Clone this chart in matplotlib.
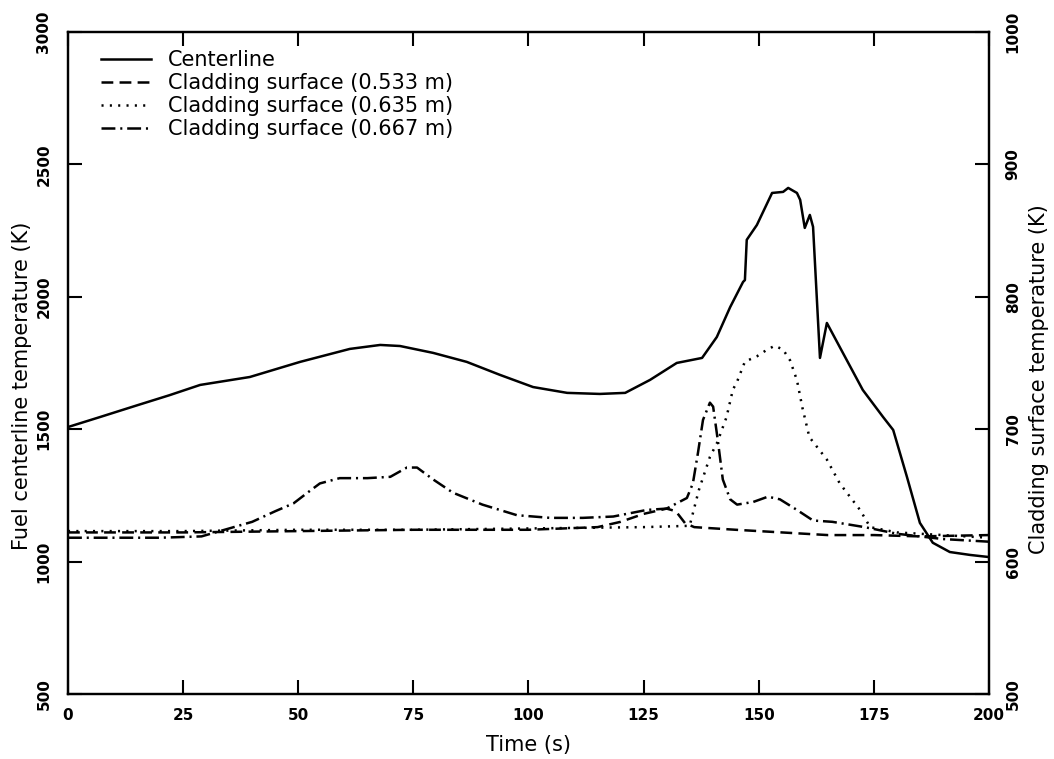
import matplotlib
matplotlib.use("Agg")
import matplotlib.pyplot as plt

# Fuel centerline temperature (K), left axis
t_center = [0, 7, 15, 22, 28.7, 39.5, 50.4, 61.2, 67.8, 72.1, 79.3, 86.6, 93.8,
            101, 108.4, 115.5, 121, 126.4, 132.2, 137.7, 140.9, 143.8, 146.6,
            147.0, 147.4, 149.6, 152.9, 155.3, 156.4, 158.3, 159, 160, 161.1,
            161.8, 163.3, 164.8, 167.6, 172.6, 177, 179.2, 182.2, 185, 187.8,
            191.5, 195.9, 200]
T_center = [1508, 1546, 1590, 1628, 1667, 1697, 1754, 1803, 1818, 1814, 1788,
            1754, 1705, 1659, 1637, 1633, 1637, 1686, 1750, 1769, 1848, 1961,
            2056, 2063, 2215, 2271, 2392, 2396, 2411, 2392, 2366, 2260, 2309,
            2264, 1769, 1901, 1810, 1648, 1546, 1497, 1319, 1146, 1071, 1036,
            1025, 1017]

# Cladding surface temperatures (K), right axis
t_533 = [0, 25, 50, 75, 100, 115, 120, 125, 130, 132, 134, 136, 145, 155, 165,
         175, 185, 200]
T_533 = [622, 622, 623, 624, 624, 626, 630, 636, 640, 638, 629, 626, 624, 622,
         620, 620, 619, 620]

t_635 = [0, 25, 50, 75, 100, 125, 135, 137, 139.4, 141, 143, 144.4, 145.2, 147,
         149.6, 151.8, 153.5, 155.3, 156.8, 158.3, 159.5, 161, 164.8, 167.6,
         172, 174.2, 180, 190, 200]
T_635 = [623, 623, 624, 624, 625, 626, 627, 654, 679, 690, 709, 730, 735, 751,
         755, 760, 763, 760, 752, 737, 716, 694, 677, 659, 639, 626, 622, 620,
         618]

t_667 = [0, 10, 20, 29, 35, 40, 45, 49, 52, 54.7, 59, 65, 70, 73.6, 75.8, 79.3,
         83.6, 90, 97.5, 104.7, 111.8, 118.4, 125.7, 130, 132.2, 134.4, 135.7,
         136.8, 137.9, 139.4, 140.1, 141.1, 142.2, 143.8, 145.3, 148.8, 152,
         154.6, 158.3, 161.8, 166, 173, 180, 190, 200]
T_667 = [618, 618, 618, 619, 625, 630, 638, 644, 652, 659, 663, 663, 664, 671,
         671, 662, 652, 643, 635, 633, 633, 634, 639, 640, 644, 648, 659, 682,
         707, 720, 717, 692, 662, 647, 643, 645, 649, 647, 639, 631, 630, 626,
         621, 617, 615]

x_ticks = [0, 25, 50, 75, 100, 125, 150, 175, 200]
left_ticks = [500, 1000, 1500, 2000, 2500, 3000]
right_ticks = [500, 600, 700, 800, 900, 1000]

plt.rcParams["font.family"] = "DejaVu Sans"
plt.rcParams["lines.scale_dashes"] = False

fig = plt.figure(figsize=(10.54, 7.59), dpi=100)
ax = fig.add_axes([0.0645, 0.0857, 0.8738, 0.8722])
ax2 = ax.twinx()

lw = 1.8
l1, = ax.plot(t_center, T_center, color="black", lw=lw, ls="-",
              label="Centerline")
l2, = ax2.plot(t_533, T_533, color="black", lw=lw, dashes=(8.5, 4.5),
               label="Cladding surface (0.533 m)")
l3, = ax2.plot(t_635, T_635, color="black", lw=lw, dashes=(1.5, 4.5),
               label="Cladding surface (0.635 m)")
l4, = ax2.plot(t_667, T_667, color="black", lw=lw, dashes=(10, 3.5, 1.5, 3.5),
               label="Cladding surface (0.667 m)")

ax.set_xlim(0, 200)
ax.set_ylim(500, 3000)
ax2.set_ylim(500, 1000)
ax.set_xticks(x_ticks)
ax.set_yticks(left_ticks)
ax2.set_yticks(right_ticks)

for spine in list(ax.spines.values()) + list(ax2.spines.values()):
    spine.set_linewidth(1.6)

tick_font = dict(labelsize=11)
ax.tick_params(axis="x", direction="in", length=10, width=1.5, top=True,
               pad=10, **tick_font)
ax.tick_params(axis="y", direction="in", length=10, width=1.5, right=False,
               labelrotation=90, pad=12, **tick_font)
ax2.tick_params(axis="y", direction="in", length=10, width=1.5,
                labelrotation=90, pad=12, **tick_font)
for lab in ax.get_xticklabels() + ax.get_yticklabels() + ax2.get_yticklabels():
    lab.set_fontweight("bold")
for lab in ax.get_yticklabels() + ax2.get_yticklabels():
    lab.set_va("center")

ax.set_xlabel("Time (s)", fontsize=15, labelpad=9)
ax.set_ylabel("Fuel centerline temperature (K)", fontsize=15)
ax2.set_ylabel("Cladding surface temperature (K)", fontsize=15, rotation=90)
ax.yaxis.set_label_coords(-0.039, 0.465)
ax2.yaxis.set_label_coords(1.044, 0.475)

ax2.legend(handles=[l1, l2, l3, l4], loc="upper left", frameon=False,
           fontsize=15, handlelength=2.4, handletextpad=0.8,
           labelspacing=0.15, borderaxespad=0.3, bbox_to_anchor=(0.02, 0.995))

fig.savefig("out.png", dpi=100)
